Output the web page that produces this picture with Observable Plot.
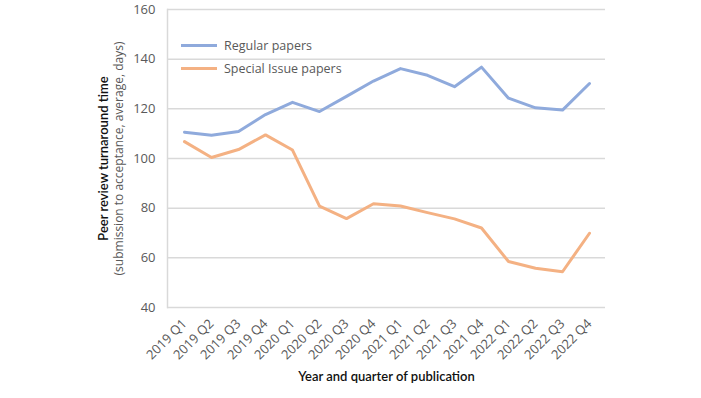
<!DOCTYPE html>
<html>
<head>
<meta charset="utf-8">
<script src="https://cdn.jsdelivr.net/npm/d3@7"></script>
<script src="https://cdn.jsdelivr.net/npm/@observablehq/plot@0.6"></script>
<style>
  html, body { margin: 0; padding: 0; background: #fff; }
  #wrap { position: relative; width: 701px; height: 398px; }
  #legend { position: absolute; left: 0; top: 0; font-family: "Open Sans", sans-serif; font-size: 12.5px; color: #595959; }
  .item { position: absolute; display: flex; align-items: center; white-space: nowrap; }
  .sw { width: 36px; height: 3px; margin-right: 7px; }
</style>
</head>
<body>
<div id="wrap"><div id="legend"></div></div>
<script>
const quarters = ["2019 Q1","2019 Q2","2019 Q3","2019 Q4","2020 Q1","2020 Q2","2020 Q3","2020 Q4",
                  "2021 Q1","2021 Q2","2021 Q3","2021 Q4","2022 Q1","2022 Q2","2022 Q3","2022 Q4"];
const regular = [110.6, 109.4, 110.9, 117.7, 122.6, 118.9, 125.0, 131.2, 136.2, 133.5, 128.9, 136.8, 124.3, 120.4, 119.5, 130.2];
const special = [106.8, 100.4, 103.6, 109.5, 103.4, 80.8, 75.8, 81.8, 80.9, 78.2, 75.7, 72.0, 58.5, 55.8, 54.4, 69.9];
const seriesNames = ["Regular papers", "Special Issue papers"];
const seriesColors = ["#8faadc", "#f4b183"];
const yTicks = [40, 60, 80, 100, 120, 140, 160];
const yTitle1 = "Peer review turnaround time";
const yTitle2 = "(submission to acceptance, average, days)";
const xTitle = "Year and quarter of publication";

const rows = [];
quarters.forEach((q, i) => {
  rows.push({q, v: regular[i], s: seriesNames[0]});
  rows.push({q, v: special[i], s: seriesNames[1]});
});

const chart = Plot.plot({
  width: 701,
  height: 398,
  marginLeft: 167,
  marginRight: 96,
  marginTop: 9,
  marginBottom: 91,
  style: { fontFamily: "'Open Sans', sans-serif", color: "#595959", background: "#fff" },
  x: { type: "point", domain: quarters, padding: 0.5, label: null },
  y: { domain: [40, 160], label: null },
  color: { domain: seriesNames, range: seriesColors },
  marks: [
    Plot.gridY(yTicks, { stroke: "#d9d9d9", strokeOpacity: 1, strokeWidth: 1.5 }),
    Plot.frame({ anchor: "left", stroke: "#d9d9d9", strokeWidth: 1.5 }),
    Plot.axisY(yTicks, { tickSize: 0, tickPadding: 12, fontSize: 13, label: null }),
    Plot.axisX({ tickSize: 0, tickRotate: -45, tickPadding: 14, fontSize: 13, label: null }),
    Plot.line(rows, { x: "q", y: "v", z: "s", stroke: "s", strokeWidth: 3, strokeLinejoin: "round" }),
    Plot.text([yTitle1], { frameAnchor: "left", textAnchor: "middle", rotate: -90, dx: -64, fontSize: 13, fontFamily: "Lato, sans-serif", fill: "#111", fontWeight: 600 }),
    Plot.text([yTitle2], { frameAnchor: "left", textAnchor: "middle", rotate: -90, dx: -48, fontSize: 12, fill: "#595959" }),
    Plot.text([xTitle], { frameAnchor: "bottom", dy: 73, fontSize: 13, fontFamily: "Lato, sans-serif", fill: "#111", fontWeight: 600 })
  ]
});
document.getElementById("wrap").prepend(chart);

const legend = document.getElementById("legend");
seriesNames.forEach((n, i) => {
  const it = document.createElement("div");
  it.className = "item";
  it.style.left = "181px";
  it.style.top = (37 + i * 23) + "px";
  const sw = document.createElement("span");
  sw.className = "sw";
  sw.style.background = seriesColors[i];
  it.appendChild(sw);
  it.appendChild(document.createTextNode(n));
  legend.appendChild(it);
});
</script>
</body>
</html>
